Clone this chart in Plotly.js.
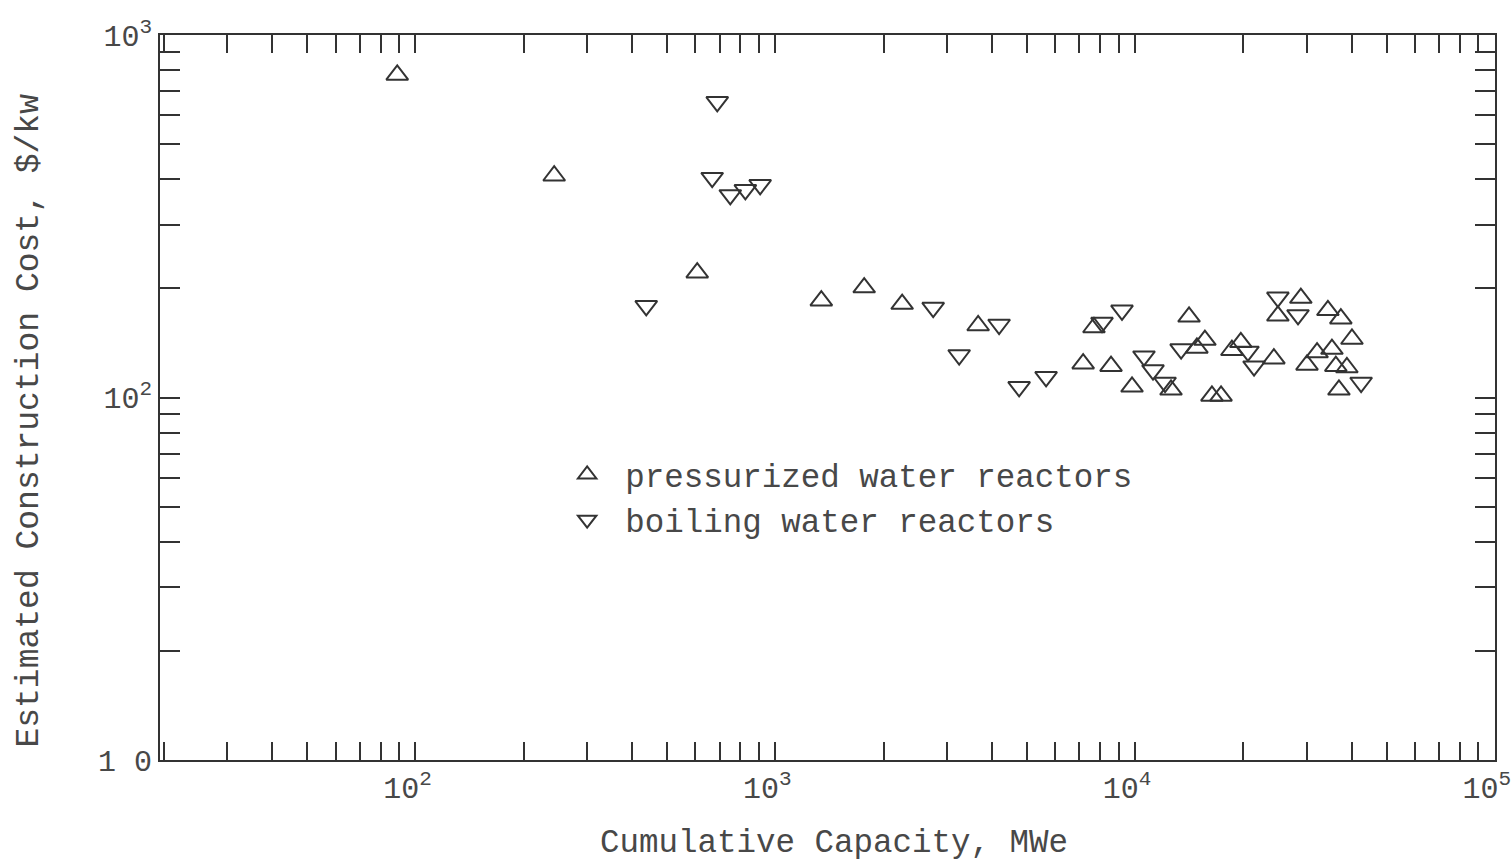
<!DOCTYPE html>
<html>
<head>
<meta charset="utf-8">
<script src="https://cdn.plot.ly/plotly-3.0.1.min.js"></script>
<style>html,body{margin:0;padding:0;background:#fff;}#chart{width:1512px;height:865px;}</style>
</head>
<body>
<div id="chart"></div>
<script>
// Pressurized water reactors (cumulative capacity MWe, estimated cost $/kW)
const pwrCapacity = [89, 243, 607, 1343, 1767, 2253, 3664, 7175, 7690, 8576, 9810, 12590, 14130, 14860, 15640, 16360, 17340, 18590, 19680, 24320, 24950, 28900, 30060, 32060, 34360, 35260, 36150, 37330, 38800, 40080, 36880];
const pwrCost     = [776, 409, 221, 185, 201, 181, 158, 124, 156, 122, 107, 105, 167, 137, 144, 101, 101, 135, 142, 128, 168, 188, 123, 133, 174, 136, 122, 165, 121, 145, 105];
// Boiling water reactors
const bwrCapacity = [690, 668, 750, 826, 908, 438, 2748, 3245, 4190, 4763, 5660, 8095, 9200, 10590, 11220, 12120, 13430, 20600, 21420, 24950, 28380, 42500];
const bwrCost     = [654, 404, 362, 374, 386, 179, 177, 131, 159, 107, 114, 161, 174, 130, 119, 110, 136, 134, 122, 189, 169, 110];

const xTickVals = [100, 1000, 10000, 100000];
const xTickText = ['10<sup>2</sup>', '10<sup>3</sup>', '10<sup>4</sup>', '10<sup>5</sup>'];
const yTickVals = [10, 100, 1000];
const yTickText = ['1 0', '10<sup>2</sup>', '10<sup>3</sup>'];
const xTitle = 'Cumulative Capacity, MWe';
const yTitle = 'Estimated Construction Cost, $/kw';

const FONT = 'Liberation Mono, DejaVu Sans Mono, monospace';
const INK = '#333';
const TXT = '#484848';

const traces = [
  {
    x: pwrCapacity, y: pwrCost, mode: 'markers', type: 'scatter',
    name: 'pressurized water reactors',
    marker: {symbol: 'triangle-up-open', size: 19, color: INK, line: {width: 2, color: INK}}
  },
  {
    x: bwrCapacity, y: bwrCost, mode: 'markers', type: 'scatter',
    name: 'boiling water reactors',
    marker: {symbol: 'triangle-down-open', size: 19, color: INK, line: {width: 2, color: INK}}
  }
];

const layout = {
  width: 1512, height: 865,
  margin: {l: 160, r: 17, t: 35, b: 105},
  paper_bgcolor: '#fff', plot_bgcolor: '#fff',
  font: {family: FONT, color: TXT, size: 30},
  showlegend: true,
  legend: {
    x: 0.2915, y: 0.432, xanchor: 'left', yanchor: 'top',
    bgcolor: 'rgba(0,0,0,0)', font: {family: FONT, size: 32.5, color: TXT},
    tracegroupgap: 0, itemwidth: 66
  },
  xaxis: {
    type: 'log', range: [Math.log10(19.5), 5.0005],
    tickvals: xTickVals, ticktext: xTickText,
    ticks: 'inside', ticklen: 18, tickwidth: 2, tickcolor: INK,
    minor: {dtick: 'D1', ticks: 'inside', ticklen: 18, tickwidth: 2, tickcolor: INK, showgrid: false},
    showline: true, linecolor: INK, linewidth: 2, mirror: 'ticks',
    showgrid: false, zeroline: false,
    ticklabeloverflow: 'allow', ticklabelshift: -8,
    tickfont: {family: FONT, size: 30, color: TXT}
  },
  yaxis: {
    type: 'log', range: [1, 3],
    tickvals: yTickVals, ticktext: yTickText,
    ticks: 'inside', ticklen: 20, tickwidth: 2, tickcolor: INK,
    minor: {dtick: 'D1', ticks: 'inside', ticklen: 20, tickwidth: 2, tickcolor: INK, showgrid: false},
    showline: true, linecolor: INK, linewidth: 2, mirror: 'ticks',
    showgrid: false, zeroline: false,
    tickfont: {family: FONT, size: 30, color: TXT}
  },
  annotations: [
    {text: xTitle, xref: 'paper', yref: 'paper', x: 0.505, y: -0.115, xanchor: 'center', yanchor: 'middle',
     showarrow: false, font: {family: FONT, size: 32.5, color: TXT}},
    {text: yTitle, xref: 'paper', yref: 'paper', x: -0.0975, y: 0.468, xanchor: 'center', yanchor: 'middle',
     textangle: -90, showarrow: false, font: {family: FONT, size: 33, color: TXT}}
  ]
};

Plotly.newPlot('chart', traces, layout, {displayModeBar: false, staticPlot: true});
</script>
</body>
</html>
